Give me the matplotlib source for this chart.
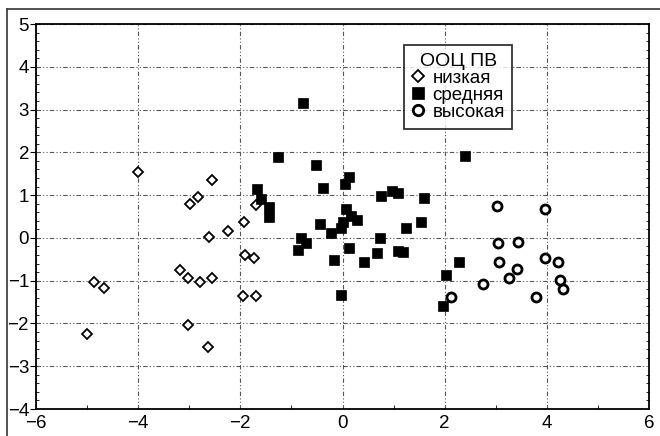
import matplotlib.pyplot as plt
import numpy as np
from matplotlib.lines import Line2D
from matplotlib.ticker import MultipleLocator

plt.rcParams['font.family'] = ['Liberation Sans', 'DejaVu Sans']

# низкая ООЦ ПВ
low_x = [-4.01, -2.56, -2.82, -2.98, -1.70, -1.92, -2.24, -2.61, -1.90, -1.73, -3.19,
         -3.03, -2.78, -2.56, -4.87, -4.66, -1.94, -1.70, -5.00, -3.03, -2.63]
low_y = [1.53, 1.35, 0.96, 0.79, 0.77, 0.38, 0.15, 0.02, -0.40, -0.48, -0.74,
         -0.93, -1.04, -0.93, -1.02, -1.18, -1.35, -1.36, -2.24, -2.03, -2.55]

# средняя
mid_x = [-0.77, -1.27, -0.51, 2.39, 0.12, 0.05, -0.39, -1.68, -1.59, -1.44, -1.44,
         0.75, 0.97, 1.09, 1.59, 0.06, 0.17, 0.28, 0.01, 1.53, -0.44, -0.03, -0.23,
         1.24, -0.82, -0.71, -0.88, 0.74, 0.13, -0.16, 0.42, 0.68, 1.08, 1.18,
         2.29, 2.03, -0.03, 1.97]
mid_y = [3.15, 1.88, 1.71, 1.92, 1.43, 1.26, 1.16, 1.14, 0.90, 0.72, 0.50,
         0.99, 1.10, 1.06, 0.94, 0.67, 0.52, 0.42, 0.38, 0.38, 0.32, 0.23, 0.11,
         0.23, -0.01, -0.11, -0.28, -0.01, -0.24, -0.51, -0.56, -0.35, -0.31, -0.33,
         -0.56, -0.86, -1.33, -1.60]

# высокая
high_x = [3.02, 3.97, 3.04, 3.43, 3.06, 3.96, 4.22, 3.42, 3.25, 4.26, 4.32, 2.75, 2.13, 3.79]
high_y = [0.75, 0.67, -0.11, -0.09, -0.56, -0.48, -0.56, -0.73, -0.93, -0.98, -1.20,
          -1.07, -1.39, -1.39]

fig = plt.figure(figsize=(6.6, 4.36), dpi=100)
ax = fig.add_axes([36 / 660, 1 - 409 / 436, 613 / 660, 385 / 436])

ax.plot(low_x, low_y, 'D', ms=5, mfc='white', mec='black', mew=1.3,
        label='низкая', zorder=3)
ax.plot(mid_x, mid_y, 's', ms=7.5, mfc='black', mec='black', mew=0.5,
        label='средняя', zorder=3)
ax.plot(high_x, high_y, 'o', ms=6.5, mfc='white', mec='black', mew=2,
        label='высокая', zorder=3)

ax.set_xlim(-6, 6)
ax.set_ylim(-4, 5)
ax.xaxis.set_major_locator(MultipleLocator(2))
ax.xaxis.set_minor_locator(MultipleLocator(1))
ax.yaxis.set_major_locator(MultipleLocator(1))
ax.yaxis.set_minor_locator(MultipleLocator(0.2))

ax.grid(True, which='major', color='#555555', lw=0.8,
        linestyle=(0, (4, 2, 1, 2, 1, 2)))
ax.tick_params(axis='x', which='major', length=0, pad=4, labelsize=13.5)
ax.tick_params(axis='x', which='minor', direction='in', length=3)
ax.tick_params(axis='y', which='major', direction='out', length=4, pad=1, labelsize=13.5)
ax.tick_params(axis='y', which='minor', direction='in', length=2, right=True)
for s in ax.spines.values():
    s.set_linewidth(1.3)

leg = ax.legend(title='ООЦ ПВ', loc='upper left', bbox_to_anchor=(0.601, 0.945),
                fontsize=13.5, title_fontsize=14, frameon=True, fancybox=False,
                edgecolor='black', handlelength=0.7, handletextpad=0.4,
                labelspacing=0.0, borderpad=0.4, borderaxespad=0, markerscale=1.15)
leg.get_frame().set_linewidth(1.3)
leg._legend_box.align = 'center'
for t in leg.get_texts():
    t.set_x(0)

# рамка рисунка
fig.add_artist(Line2D([7 / 660, 7 / 660], [0, 1 - 9 / 436], color='#444444', lw=1.3))
fig.add_artist(Line2D([7 / 660, 1], [1 - 9 / 436, 1 - 9 / 436], color='#444444', lw=1.3))

fig.savefig('out.png', dpi=100)
